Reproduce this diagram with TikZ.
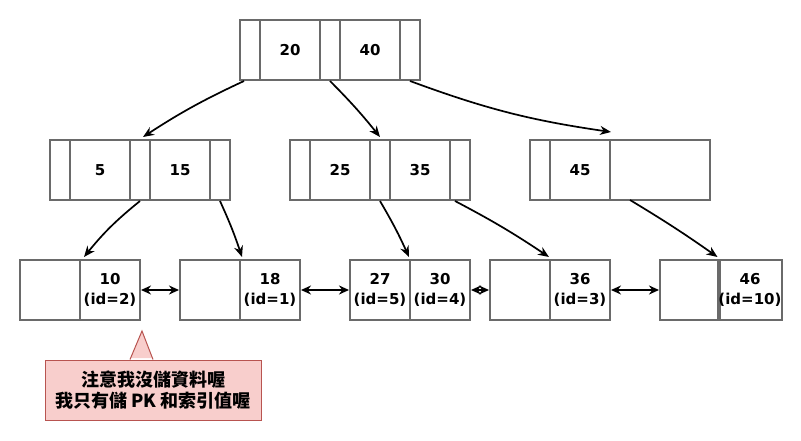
\documentclass[tikz,border=0pt]{standalone}
\usepackage{fontspec}
\setmainfont{DejaVu Sans}
\newfontfamily\cjk{Noto Sans CJK TC}
\usetikzlibrary{arrows.meta}
\definecolor{boxline}{HTML}{6A6A6A}
\definecolor{notefill}{HTML}{F8CECC}
\definecolor{noteline}{HTML}{B85450}
\begin{document}
\begin{tikzpicture}[x=1pt,y=-1pt,
  keycell/.style={draw=boxline,line width=2pt,minimum width=60pt,minimum height=60pt,inner sep=0pt,
    font=\fontsize{15}{20}\selectfont\bfseries,align=center},
  ptrcell/.style={keycell,minimum width=20pt},
  link/.style={line width=1.7pt,-{Stealth[length=11pt,width=9pt]}},
  dlink/.style={line width=1.7pt,{Stealth[length=10pt,width=9pt]}-{Stealth[length=10pt,width=9pt]}}]
\useasboundingbox (0,0) rectangle (801,441);
% root
\node[ptrcell] (t0) at (250,50) {};
\node[keycell] (t1) at (290,50) {20};
\node[ptrcell] (t2) at (330,50) {};
\node[keycell] (t3) at (370,50) {40};
\node[ptrcell] (t4) at (410,50) {};
% level 2 left
\node[ptrcell] (a0) at (60,170) {};
\node[keycell] (a1) at (100,170) {5};
\node[ptrcell] (a2) at (140,170) {};
\node[keycell] (a3) at (180,170) {15};
\node[ptrcell] (a4) at (220,170) {};
% level 2 middle
\node[ptrcell] (b0) at (300,170) {};
\node[keycell] (b1) at (340,170) {25};
\node[ptrcell] (b2) at (380,170) {};
\node[keycell] (b3) at (420,170) {35};
\node[ptrcell] (b4) at (460,170) {};
% level 2 right
\node[ptrcell] (c0) at (540,170) {};
\node[keycell] (c1) at (580,170) {45};
\node[keycell,minimum width=100pt] (c2) at (660,170) {};
\coordinate (c2p) at (630,200);
% leaves
\node[keycell] (l1a) at (50,290) {};
\node[keycell] (l1b) at (110,290) {10\\(id=2)};
\node[keycell] (l2a) at (210,290) {};
\node[keycell] (l2b) at (270,290) {18\\(id=1)};
\node[keycell] (l3a) at (380,290) {27\\(id=5)};
\node[keycell] (l3b) at (440,290) {30\\(id=4)};
\node[keycell] (l4a) at (520,290) {};
\node[keycell] (l4b) at (580,290) {36\\(id=3)};
\node[keycell] (l5a) at (690,290) {};
\node[keycell] (l5b) at (750,290) {46\\(id=10)};
% tree links
\draw[link] ([xshift=-6pt]t0.south) to[bend right=4] ([xshift=3pt,yshift=2pt]a2.north);
\draw[link] (t2.south) to[bend left=3] ([yshift=2pt]b2.north);
\draw[link] (t4.south) to[bend right=6] ([yshift=7pt]c1.north east);
\draw[link] (a2.south) to[bend right=6] ([xshift=5pt,yshift=2pt]l1b.north west);
\draw[link] (a4.south) to[bend left=3] ([xshift=3pt,yshift=2pt]l2b.north west);
\draw[link] (b2.south) to[bend left=3] ([yshift=2pt]l3b.north west);
\draw[link] ([xshift=-5pt]b4.south) to[bend left=3] ([yshift=2pt]l4b.north west);
\draw[link] (c2p) to[bend left=2] ([yshift=2pt]l5b.north west);
% leaf links
\draw[dlink] (l1b.east) -- (l2a.west);
\draw[dlink] (l2b.east) -- (l3a.west);
\draw[dlink] (l3b.east) -- (l4a.west);
\draw[dlink] (l4b.east) -- (l5a.west);
% note
\node[draw=noteline,fill=notefill,line width=1pt,minimum width=216pt,minimum height=60pt,inner sep=0pt,
  align=center,font=\cjk\fontsize{18}{21}\selectfont\bfseries] (note) at (153,390)
  {注意我沒儲資料喔\\我只有儲 PK 和索引值喔};
\coordinate (tip) at (142,331);
\fill[notefill] ([xshift=-23pt,yshift=1.5pt]note.north) -- ([xshift=-23pt]note.north) -- (tip) -- (note.north) -- ([yshift=1.5pt]note.north) -- cycle;
\draw[noteline,line width=1pt] ([xshift=-23pt]note.north) -- (tip) -- (note.north);
\end{tikzpicture}
\end{document}
